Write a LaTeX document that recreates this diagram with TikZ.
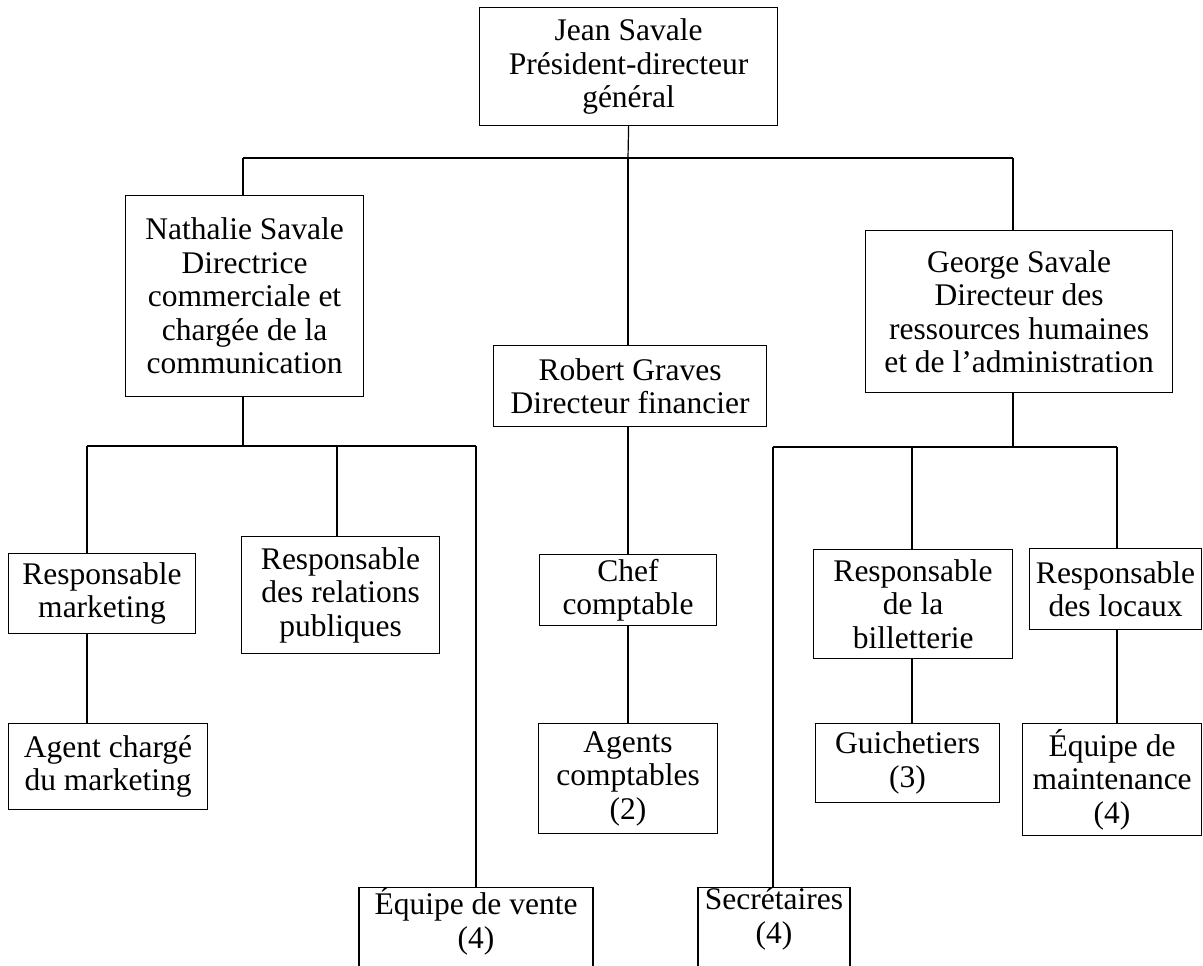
\documentclass[tikz,border=0pt]{standalone}
\usepackage{fontspec}
\setmainfont{Liberation Serif}
\tikzset{
    poste/.style={draw, line width=1.2pt, inner sep=0pt, anchor=north west, align=center,
        font=\fontsize{31.5pt}{33.5pt}\selectfont},
    posteb/.style={poste, anchor=north, inner ysep=0pt, text depth=50pt},
    lien/.style={line width=1.2pt}
}
\begin{document}
\begin{tikzpicture}[x=1pt,y=-1pt]
            \useasboundingbox (0,0) rectangle (1203,966);
            \node[poste, minimum width=298pt, minimum height=118pt] (jean) at (479,7) {Jean Savale\\Président-directeur\\général};
            \node[poste, minimum width=238pt, minimum height=201pt] (nathalie) at (125,195) {Nathalie Savale\\Directrice\\commerciale et\\chargée de la\\communication};
            \node[poste, minimum width=273pt, minimum height=81pt] (robert) at (493,345) {Robert Graves\\Directeur financier};
            \node[poste, minimum width=307pt, minimum height=162pt] (george) at (865,230) {George Savale\\Directeur des\\ressources humaines\\et de l’administration};
            \node[poste, minimum width=187pt, minimum height=80pt] (rmark) at (8,553) {Responsable\\marketing};
            \node[poste, minimum width=198pt, minimum height=117pt] (rrel) at (241,536) {Responsable\\des relations\\publiques};
            \node[poste, minimum width=199pt, minimum height=86pt] (agentm) at (8,723) {Agent chargé\\du marketing};
            \node[poste, minimum width=177pt, minimum height=71pt] (chef) at (539,554) {Chef\\comptable};
            \node[poste, minimum width=179pt, minimum height=110pt] (agentc) at (538,723) {Agents\\comptables\\(2)};
            \node[poste, minimum width=199pt, minimum height=109pt] (bill) at (813,549) {Responsable\\de la\\billetterie};
            \node[poste, minimum width=172pt, minimum height=81pt] (locaux) at (1029,548) {Responsable\\des locaux};
            \node[poste, minimum width=184pt, minimum height=79pt] (guich) at (815,723) {Guichetiers\\(3)};
            \node[poste, minimum width=179pt, minimum height=112pt] (maint) at (1022,723) {Équipe de\\maintenance\\(4)};
            \node[posteb, minimum width=234pt] (vente) at (476,887) {Équipe de vente\\(4)};
            \node[posteb, minimum width=152pt] (secr) at (774,887) {Secrétaires\\(4)};
            \coordinate (b0) at (628,158);
            \coordinate (b0l) at (243,158);
            \coordinate (b0r) at (1013,158);
            \coordinate (b1) at (243,446);
            \coordinate (b1l) at (87,446);
            \coordinate (b1m) at (337,446);
            \coordinate (b1r) at (476,446);
            \coordinate (b2) at (1013,447);
            \coordinate (b2l) at (773,447);
            \coordinate (b2m) at (912,447);
            \coordinate (b2r) at (1117,447);
            \draw[lien] (jean.south) -- (b0);
            \draw[lien] (b0l) -- (b0r);
            \draw[lien] (b0l) -- (b0l |- nathalie.north);
            \draw[lien] (b0r) -- (b0r |- george.north);
            \draw[lien] (b0) -- (b0 |- robert.north);
            \draw[lien] (b1 |- nathalie.south) -- (b1);
            \draw[lien] (b1l) -- (b1r);
            \draw[lien] (b1l) -- (b1l |- rmark.north);
            \draw[lien] (b1m) -- (b1m |- rrel.north);
            \draw[lien] (b1r) -- (b1r |- vente.north);
            \draw[lien] (b1l |- rmark.south) -- (b1l |- agentm.north);
            \draw[lien] (b2 |- george.south) -- (b2);
            \draw[lien] (b2l) -- (b2r);
            \draw[lien] (b2l) -- (b2l |- secr.north);
            \draw[lien] (b2m) -- (b2m |- bill.north);
            \draw[lien] (b2r) -- (b2r |- locaux.north);
            \draw[lien] (b2m |- bill.south) -- (b2m |- guich.north);
            \draw[lien] (b2r |- locaux.south) -- (b2r |- maint.north);
            \draw[lien] (b0 |- robert.south) -- (b0 |- chef.north);
            \draw[lien] (b0 |- chef.south) -- (b0 |- agentc.north);
        \end{tikzpicture}
\end{document}
